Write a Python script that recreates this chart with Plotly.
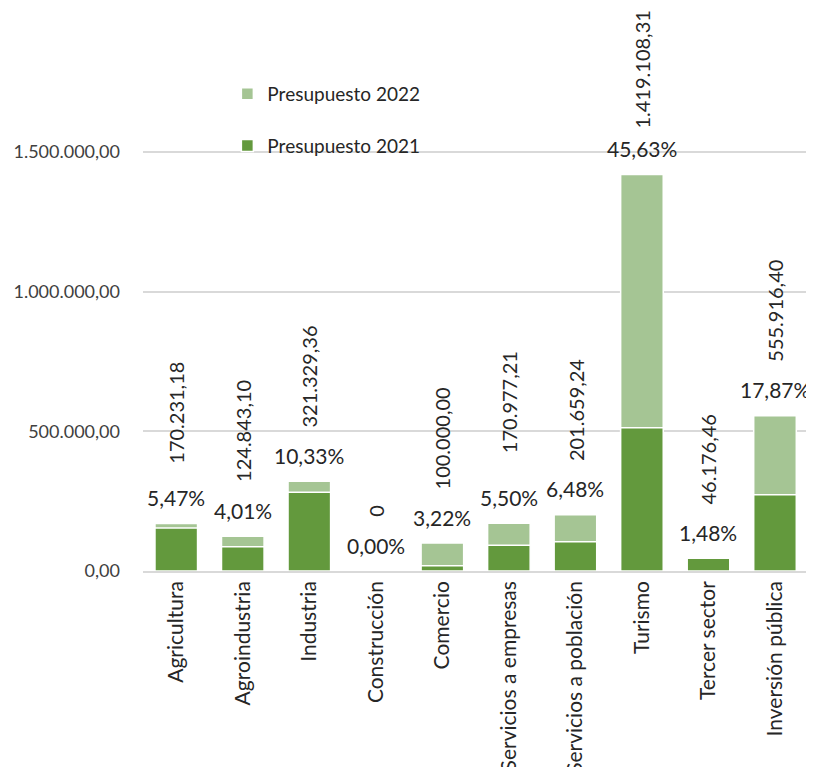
import plotly.graph_objects as go

categorias = ["Agricultura", "Agroindustria", "Industria", "Construcción", "Comercio",
              "Servicios a empresas", "Servicios a población", "Turismo", "Tercer sector",
              "Inversión pública"]
presupuesto_2022 = [170231.18, 124843.10, 321329.36, 0, 100000.00, 170977.21,
                    201659.24, 1419108.31, 46176.46, 555916.40]
presupuesto_2021 = [154000, 87000, 282000, 0, 19000, 92000, 105000, 513000, 46000, 273000]
porcentajes = ["5,47%", "4,01%", "10,33%", "0,00%", "3,22%", "5,50%", "6,48%",
               "45,63%", "1,48%", "17,87%"]
y_ticks = [0, 500000, 1000000, 1500000]
y_tick_labels = ["0,00", "500.000,00", "1.000.000,00", "1.500.000,00"]

DARK = "#63993d"
LIGHT = "#a5c594"
FONT = "Lato"
TXT = "#262626"


def fmt(v):
    if v == 0:
        return "0"
    s = f"{v:,.2f}"
    return s.replace(",", "X").replace(".", ",").replace("X", ".")


fig = go.Figure()
fig.add_trace(go.Bar(x=categorias, y=presupuesto_2022, name="Presupuesto 2022",
                     marker=dict(color=LIGHT, line=dict(color="white", width=1.5)),
                     legendgroup="a"))
fig.add_trace(go.Bar(x=categorias, y=presupuesto_2021, name="Presupuesto 2021",
                     marker=dict(color=DARK, line=dict(color="white", width=1.5)),
                     legendgroup="b"))

extra = {"Agricultura": 6, "Servicios a empresas": 16, "Turismo": -8}
for c, v, p in zip(categorias, presupuesto_2022, porcentajes):
    fig.add_annotation(x=c, y=v, text=p, showarrow=False, yanchor="middle", yshift=26,
                       font=dict(family=FONT, size=21, color=TXT))
    fig.add_annotation(x=c, y=v, text=fmt(v), showarrow=False, textangle=-90,
                       yanchor="bottom", yshift=52 + extra.get(c, 0),
                       font=dict(family=FONT, size=20, color=TXT))

# the page body has an 8px margin; work in figure coordinates
OFF = 8
W, H = 814 - OFF, 767 - OFF
plot_left = 142.5 - OFF
plot_right = 812.5 - OFF
plot_top = 10 - OFF
zero_y = 571 - OFF
y_top = 1500000 * (zero_y - plot_top) / (571 - 152)
plot_h = zero_y - plot_top
plot_w = plot_right - plot_left

fig.update_layout(
    width=W, height=H,
    margin=dict(l=plot_left, r=W - plot_right, t=plot_top, b=H - zero_y, autoexpand=False),
    barmode="overlay", bargap=0.36,
    plot_bgcolor="white", paper_bgcolor="white",
    font=dict(family=FONT, size=19, color=TXT),
    showlegend=True,
    legend=dict(x=(227 - OFF - plot_left) / plot_w,
                y=(zero_y - (75 - OFF)) / plot_h,
                xanchor="left", yanchor="top", traceorder="grouped",
                tracegroupgap=24, font=dict(family=FONT, size=19, color=TXT),
                bgcolor="rgba(0,0,0,0)"),
)
fig.update_xaxes(showgrid=False, showline=True, linecolor="#d9d9d9", linewidth=1.5,
                 tickangle=-90, ticks="", automargin=False,
                 tickfont=dict(family=FONT, size=21, color=TXT))
fig.update_yaxes(range=[0, y_top], tickvals=y_ticks, ticktext=y_tick_labels,
                 showgrid=True, gridcolor="#d9d9d9", gridwidth=1.5, zeroline=False,
                 showline=False, ticklabelstandoff=22, automargin=False,
                 tickfont=dict(family=FONT, size=18, color="#404040"))

fig.write_html("out.html")
